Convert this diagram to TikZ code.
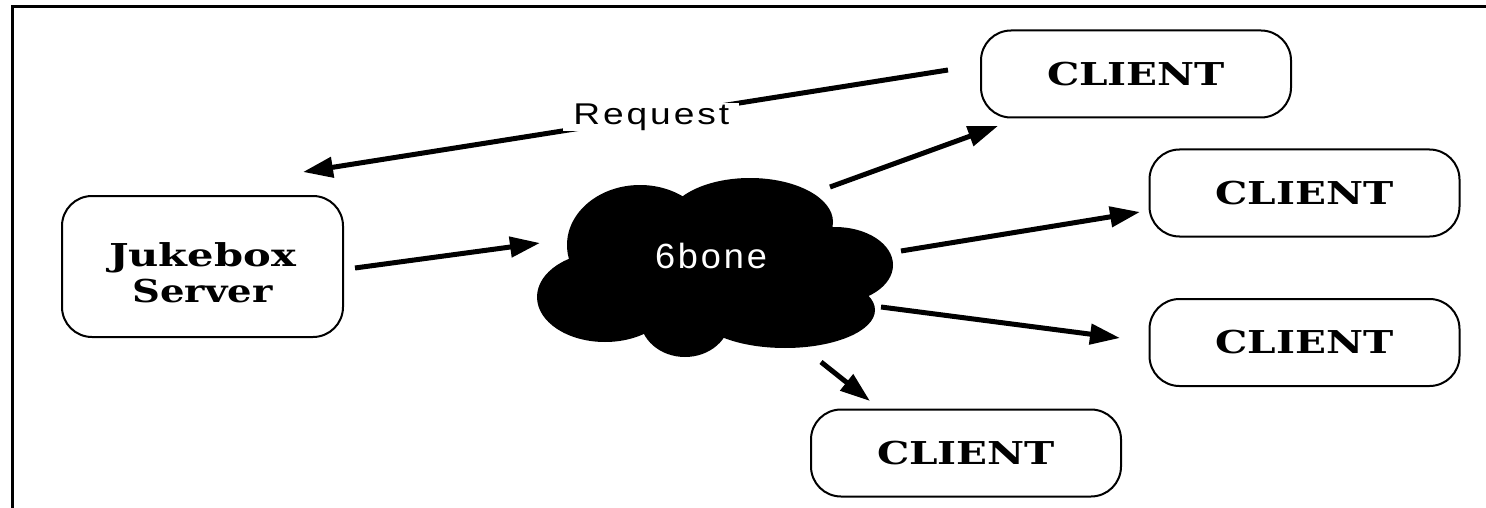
\documentclass[tikz,border=0pt]{standalone}
\usepackage{fontspec}
\usepackage{graphicx}
\usetikzlibrary{arrows.meta}
\newfontfamily\boxserif{DejaVu Serif}
\newfontfamily\widesans[LetterSpace=8]{Liberation Sans}
\newcommand{\wtext}[2]{\resizebox{#1pt}{\height}{#2}}
\begin{document}
\begin{tikzpicture}[x=1pt,y=-1pt,
  box/.style={draw,line width=2pt,rounded corners=30pt,inner sep=0pt,
    font=\fontsize{31.5}{36}\boxserif\bfseries,align=center},
  clientbox/.style={box,minimum width=310pt,minimum height=87pt},
  arr/.style={line width=5pt,-{Triangle[length=30pt,width=20pt]}},
  frame/.style={line width=3pt},
  blob/.style={fill=black,draw=none}]
\useasboundingbox (0,0) rectangle (1486,508);
% frame
\draw[frame] (12,508) -- (12,7) -- (1486,7);
% cloud
\fill[blob] (605,297) ellipse [x radius=68, y radius=45];
\fill[blob] (640,245) ellipse [x radius=73, y radius=60];
\fill[blob] (750,222) ellipse [x radius=83, y radius=44];
\fill[blob] (835,265) ellipse [x radius=58, y radius=38];
\fill[blob] (785,310) ellipse [x radius=90, y radius=38];
\fill[blob] (685,318) ellipse [x radius=45, y radius=39];
\fill[blob] (715,265) ellipse [x radius=120, y radius=60];
\node[text=white,font=\fontsize{35}{40}\widesans,inner sep=0pt] (cloud) at (711,255.5) {\wtext{112}{6bone}};
% boxes
\node[box,minimum width=281pt,minimum height=141pt] (jb) at (202.5,266.5)
  {\rule{0pt}{37pt}\wtext{187}{Jukebox}\\\wtext{140}{Server}};
\node[clientbox] (c1) at (1136,74) {\wtext{178}{CLIENT}};
\node[clientbox] (c2) at (1304.5,193) {\wtext{178}{CLIENT}};
\node[clientbox] (c3) at (1304.5,342.5) {\wtext{178}{CLIENT}};
\node[clientbox] (c4) at (966,453) {\wtext{178}{CLIENT}};
% connector end points
\coordinate (reqA) at (948,70);
\coordinate (reqB) at (303,172);
\coordinate (jout) at (355,268);
\coordinate (cin) at (540,243);
\coordinate (o1) at (830,187);
\coordinate (i1) at (998,126);
\coordinate (o2) at (901,251);
\coordinate (i2) at (1140,212);
\coordinate (o3) at (881,307);
\coordinate (i3) at (1120,338);
\coordinate (o4) at (821,362);
\coordinate (i4) at (870,401);
% connectors
\draw[arr] (reqA) -- node[pos=0.46,fill=white,inner sep=0pt,minimum width=176pt,minimum height=28pt,
  font=\fontsize{30}{36}\widesans] (req) {\wtext{156}{Request}} (reqB);
\draw[arr] (jout) -- (cin);
\draw[arr] (o1) -- (i1);
\draw[arr] (o2) -- (i2);
\draw[arr] (o3) -- (i3);
\draw[arr] (o4) -- (i4);
\end{tikzpicture}
\end{document}
